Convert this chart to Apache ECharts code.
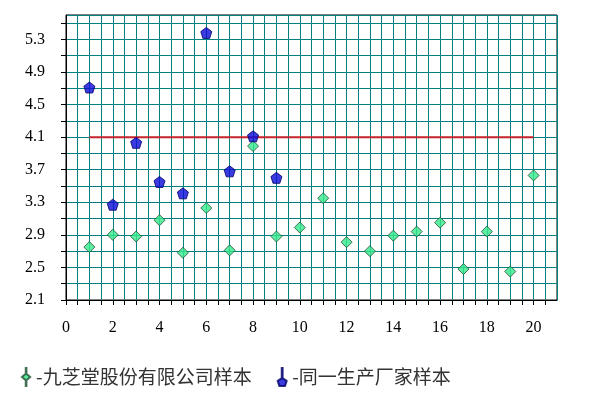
<!DOCTYPE html>
<html lang="zh">
  <head>
    <meta charset="UTF-8" />
    <title>样本对比</title>
    <script src="https://cdn.jsdelivr.net/npm/echarts@6/dist/echarts.min.js"></script>
    <style>
      html, body { margin: 0; padding: 0; background: #fff; }
      #chart { width: 602px; height: 398px; }
    </style>
  </head>
  <body>
    <div id="chart"></div>
    <script>
      // 样本序号
      var sampleX = [1, 2, 3, 4, 5, 6, 7, 8, 9, 10, 11, 12, 13, 14, 15, 16, 17, 18, 19, 20];
      // 九芝堂股份有限公司样本
      var jztValues = [2.75, 2.90, 2.88, 3.08, 2.68, 3.23, 2.71, 3.99, 2.88, 2.99,
                       3.35, 2.81, 2.70, 2.89, 2.94, 3.05, 2.48, 2.94, 2.45, 3.63];
      // 同一生产厂家样本
      var sameX = [1, 2, 3, 4, 5, 6, 7, 8, 9];
      var sameValues = [4.71, 3.27, 4.03, 3.55, 3.41, 5.38, 3.68, 4.11, 3.60];
      // 红色参考线
      var refLineX = [1, 20];
      var refLineY = 4.1;
      var yLabels = [2.1, 2.5, 2.9, 3.3, 3.7, 4.1, 4.5, 4.9, 5.3];
      var xLabels = [0, 2, 4, 6, 8, 10, 12, 14, 16, 18, 20];

      var nameA = "-九芝堂股份有限公司样本";
      var nameB = "-同一生产厂家样本";
      var pentagon = "path://M0,-1 L0.951,-0.309 L0.588,0.809 L-0.588,0.809 L-0.951,-0.309 Z";

      var chart = echarts.init(document.getElementById("chart"));

      function near(list, v) {
        for (var i = 0; i < list.length; i++) {
          if (Math.abs(list[i] - v) < 1e-6) return list[i];
        }
        return null;
      }

      chart.setOption({
        animation: false,
        grid: {
          left: 66, right: 45, top: 15, bottom: 98,
          show: true, borderColor: "#000", borderWidth: 1,
        },
        legend: {
          left: 16, top: 362,
          itemGap: 25, itemWidth: 10, itemHeight: 18,
          textStyle: { fontFamily: "Noto Sans CJK SC", fontSize: 19, color: "#333" },
          data: [
            { name: nameA, icon: "path://M4.6,0 L5.4,0 L5.4,7 L10,11 L5.4,15 L5.4,22 L4.6,22 L4.6,15 L0,11 L4.6,7 Z" },
            { name: nameB, icon: "path://M4.6,0 L5.4,0 L5.4,9 L9,11.5 L7.5,16 L2.5,16 L1,11.5 L4.6,9 Z" },
          ],
        },
        xAxis: {
          type: "value", min: 0, max: 21, interval: 0.5,
          axisLine: { lineStyle: { color: "#000" } },
          axisTick: { inside: false, length: 5, lineStyle: { color: "#000" } },
          axisLabel: {
            margin: 20, fontFamily: "Liberation Serif", fontSize: 16, color: "#000",
            showMaxLabel: false,
            formatter: function (v) {
              var m = near(xLabels, v);
              return m === null ? "" : String(m);
            },
          },
          splitLine: { show: true, lineStyle: { color: "#008080", width: 1 } },
        },
        yAxis: {
          type: "value", min: 2.1, max: 5.6, interval: 0.2,
          axisLine: { show: true, lineStyle: { color: "#000" } },
          axisTick: { show: true, length: 5, lineStyle: { color: "#000" } },
          axisLabel: {
            margin: 21, fontFamily: "Liberation Serif", fontSize: 16, color: "#000",
            showMaxLabel: false,
            formatter: function (v) {
              var m = near(yLabels, v);
              return m === null ? "" : m.toFixed(1);
            },
          },
          splitLine: { show: true, lineStyle: { color: "#008080", width: 1 } },
        },
        series: [
          {
            name: "参考线",
            type: "line",
            data: refLineX.map(function (x) { return [x, refLineY]; }),
            symbol: "none",
            lineStyle: { color: "#c4242a", width: 2 },
            z: 3,
          },
          {
            name: nameA,
            type: "scatter",
            data: sampleX.map(function (x, i) { return [x, jztValues[i]]; }),
            symbol: "diamond",
            symbolSize: [11, 11],
            itemStyle: { color: "#36ea8c", borderColor: "#1f4f2f", borderWidth: 1 },
            z: 4,
          },
          {
            name: nameB,
            type: "scatter",
            data: sameX.map(function (x, i) { return [x, sameValues[i]]; }),
            symbol: pentagon,
            symbolSize: 11,
            itemStyle: { color: "#0a0ad8", borderColor: "#000066", borderWidth: 1 },
            z: 5,
          },
        ],
      });
    </script>
  </body>
</html>
